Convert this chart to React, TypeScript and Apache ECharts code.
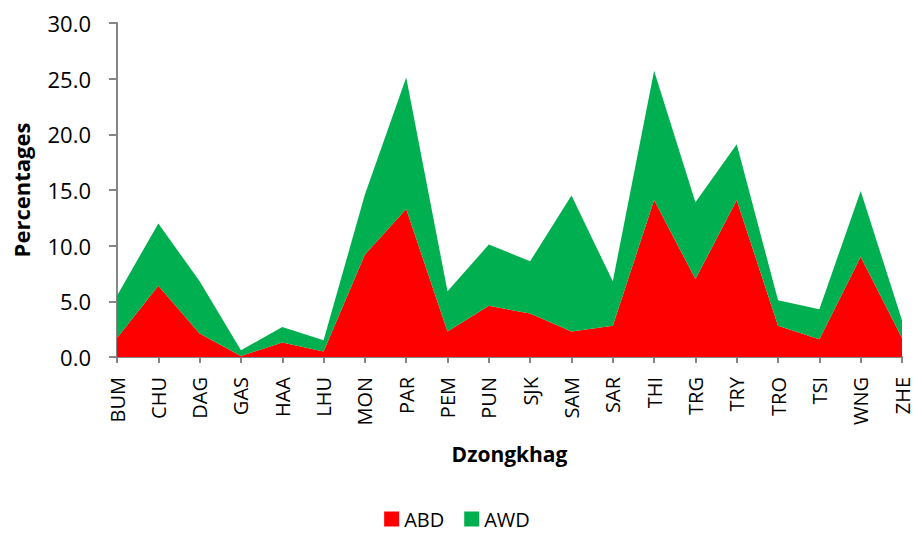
import React, { useEffect, useRef } from "react";
import * as echarts from "echarts";

const categories = ["BUM", "CHU", "DAG", "GAS", "HAA", "LHU", "MON", "PAR", "PEM", "PUN", "SJK", "SAM", "SAR", "THI", "TRG", "TRY", "TRO", "TSI", "WNG", "ZHE"];
const abd = [1.7, 6.4, 2.1, 0.1, 1.3, 0.5, 9.2, 13.3, 2.3, 4.6, 3.9, 2.3, 2.8, 14.1, 7.0, 14.1, 2.8, 1.6, 9.0, 1.7];
const awd = [3.8, 5.6, 4.7, 0.5, 1.4, 1.0, 5.4, 11.8, 3.6, 5.5, 4.7, 12.2, 4.0, 11.6, 6.9, 5.0, 2.3, 2.7, 5.9, 1.6];

const FONT = "'Open Sans', 'Noto Sans', sans-serif";
const AXIS_COLOR = "#868686";

export default function App() {
  const ref = useRef<HTMLDivElement>(null);
  useEffect(() => {
    const chart = echarts.init(ref.current!, null, { renderer: "svg" });
    chart.setOption({
      animation: false,
      textStyle: { fontFamily: FONT },
      grid: { left: 117, right: 12, top: 23, bottom: 180, containLabel: false },
      legend: {
        top: 509,
        left: "center",
        padding: 0,
        itemWidth: 15,
        itemHeight: 15,
        itemGap: 20,
        icon: "rect",
        textStyle: { fontSize: 20, color: "#000", fontFamily: FONT },
        data: ["ABD", "AWD"],
      },
      xAxis: {
        type: "category",
        data: categories,
        boundaryGap: false,
        name: "Dzongkhag",
        nameLocation: "middle",
        nameGap: 86,
        nameTextStyle: { fontSize: 21, fontWeight: "bold", color: "#000", fontFamily: FONT },
        axisLine: { lineStyle: { color: AXIS_COLOR, width: 2 } },
        axisTick: { alignWithLabel: true, length: 6, lineStyle: { color: AXIS_COLOR, width: 2 } },
        axisLabel: { rotate: 90, fontSize: 20, color: "#000", margin: 20, interval: 0, fontFamily: FONT },
      },
      yAxis: {
        type: "value",
        min: 0,
        max: 30,
        interval: 5,
        name: "Percentages",
        nameLocation: "middle",
        nameGap: 85,
        nameTextStyle: { fontSize: 22, fontWeight: "bold", color: "#000", fontFamily: FONT },
        axisLine: { show: true, lineStyle: { color: AXIS_COLOR, width: 2 } },
        axisTick: { show: true, length: 8, lineStyle: { color: AXIS_COLOR, width: 2 } },
        splitLine: { show: false },
        axisLabel: { fontSize: 22, color: "#000", margin: 26, formatter: (v: number) => v.toFixed(1), fontFamily: FONT },
      },
      series: [
        {
          name: "ABD",
          type: "line",
          stack: "total",
          data: abd,
          symbol: "none",
          lineStyle: { width: 0 },
          itemStyle: { color: "#FF0000" },
          areaStyle: { color: "#FF0000", opacity: 1 },
        },
        {
          name: "AWD",
          type: "line",
          stack: "total",
          data: awd,
          symbol: "none",
          lineStyle: { width: 0 },
          itemStyle: { color: "#00B050" },
          areaStyle: { color: "#00B050", opacity: 1 },
        },
      ],
    });
    return () => chart.dispose();
  }, []);
  return <div ref={ref} style={{ width: 914, height: 537, position: "absolute", left: 0, top: 0 }} />;
}
